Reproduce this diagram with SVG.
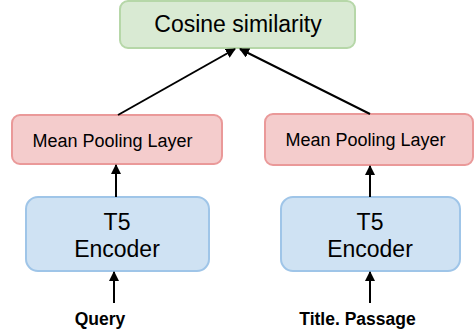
<svg xmlns="http://www.w3.org/2000/svg" width="474" height="336" viewBox="0 0 474 336">
<defs>
<marker id="ah" viewBox="0 0 10 10" refX="9" refY="5" markerWidth="5" markerHeight="5" markerUnits="strokeWidth" orient="auto">
<path d="M0,0 L10,5 L0,10 Z" fill="#000"/>
</marker>
<style>
.green{fill:#d9ead3;stroke:#b6d7a8;stroke-width:2}
.red{fill:#f4cccc;stroke:#ea9999;stroke-width:2}
.blue{fill:#cfe2f3;stroke:#9fc5e8;stroke-width:2}
.t{font-family:"Liberation Sans",Arial,sans-serif;fill:#000;text-anchor:middle}
.b{font-family:"Liberation Sans",Arial,sans-serif;fill:#000;text-anchor:middle;font-weight:bold;font-size:17.5px}
.edge{stroke:#000;stroke-width:2;fill:none;marker-end:url(#ah)}
</style>
</defs>
<rect width="474" height="336" fill="#fff"/>
<g id="cosine">
<rect class="green" x="120" y="1" width="235" height="47" rx="8"/>
<text class="t" x="238" y="32" font-size="23">Cosine similarity</text>
</g>
<g id="pool-left">
<rect class="red" x="12" y="115" width="210" height="49" rx="8"/>
<text class="t" x="112.5" y="146.5" font-size="18">Mean Pooling Layer</text>
</g>
<g id="pool-right">
<rect class="red" x="265" y="114" width="208" height="51" rx="8"/>
<text class="t" x="365.5" y="146" font-size="18">Mean Pooling Layer</text>
</g>
<g id="enc-left">
<rect class="blue" x="26" y="197" width="183" height="74" rx="12"/>
<text class="t" x="117" y="230" font-size="23">T5</text>
<text class="t" x="117" y="256.5" font-size="23">Encoder</text>
</g>
<g id="enc-right">
<rect class="blue" x="281" y="197" width="179" height="74" rx="12"/>
<text class="t" x="370" y="230" font-size="23">T5</text>
<text class="t" x="370" y="256.5" font-size="23">Encoder</text>
</g>
<g id="query">
<text class="b" x="100" y="325">Query</text>
</g>
<g id="passage">
<text class="b" x="357.5" y="325">Title. Passage</text>
</g>
<g id="connectors">
<line class="edge" x1="114" y1="303" x2="114" y2="272"/>
<line class="edge" x1="116" y1="197" x2="116" y2="165"/>
<line class="edge" x1="118" y1="115" x2="235" y2="49"/>
<line class="edge" x1="370" y1="303" x2="370" y2="272"/>
<line class="edge" x1="370" y1="197" x2="370" y2="166"/>
<line class="edge" x1="370" y1="114" x2="240" y2="49"/>
</g>
</svg>
